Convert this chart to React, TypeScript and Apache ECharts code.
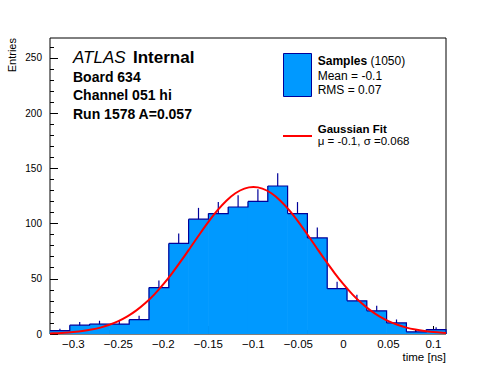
import React, { useEffect, useRef } from "react";
import * as echarts from "echarts";

// Histogram binning (time [ns])
const xMin = -0.326;
const xMax = 0.114;
const binWidth = 0.022;
const counts = [3, 8, 9, 9, 13, 42, 82, 104, 109, 115, 120, 134, 109, 87, 41, 30, 21, 10, 2, 4];

// Gaussian fit curve
const fitX = [
  -0.326, -0.32, -0.31, -0.3, -0.29, -0.28, -0.27, -0.26, -0.25, -0.24, -0.23, -0.22, -0.21, -0.2,
  -0.19, -0.18, -0.17, -0.16, -0.15, -0.14, -0.13, -0.12, -0.11, -0.1, -0.09, -0.08, -0.07, -0.06,
  -0.05, -0.04, -0.03, -0.02, -0.01, 0, 0.01, 0.02, 0.03, 0.04, 0.05, 0.06, 0.07, 0.08, 0.09, 0.1,
  0.11, 0.114,
];
const fitY = [
  0.5, 0.7, 1.1, 1.8, 2.7, 4.0, 5.8, 8.4, 11.7, 16.0, 21.4, 28.0, 35.9, 45.1,
  55.4, 66.6, 78.3, 90.1, 101.5, 111.9, 120.7, 127.4, 131.6, 133.0, 131.6, 127.4, 120.7, 111.9,
  101.5, 90.1, 78.3, 66.6, 55.4, 45.1, 35.9, 28.0, 21.4, 16.0, 11.7, 8.4, 5.8, 4.0, 2.7, 1.8,
  1.1, 0.9,
];

// Axis ticks
const xMajorTicks = [-0.3, -0.25, -0.2, -0.15, -0.1, -0.05, 0, 0.05, 0.1];
const xMinorTicks = [
  -0.32, -0.31, -0.3, -0.29, -0.28, -0.27, -0.26, -0.25, -0.24, -0.23, -0.22, -0.21, -0.2, -0.19,
  -0.18, -0.17, -0.16, -0.15, -0.14, -0.13, -0.12, -0.11, -0.1, -0.09, -0.08, -0.07, -0.06, -0.05,
  -0.04, -0.03, -0.02, -0.01, 0, 0.01, 0.02, 0.03, 0.04, 0.05, 0.06, 0.07, 0.08, 0.09, 0.1, 0.11,
];
const yMax = 268;
const yMajorTicks = [0, 50, 100, 150, 200, 250];
const yMinorTicks = [10, 20, 30, 40, 50, 60, 70, 80, 90, 100, 110, 120, 130, 140, 150, 160, 170, 180, 190, 200, 210, 220, 230, 240, 250, 260];

const FONT = "'Liberation Sans', Arial, Helvetica, sans-serif";
const FILL = "#0099ff";
const NAVY = "#00009a";

export default function App() {
  const ref = useRef<HTMLDivElement>(null);

  useEffect(() => {
    if (!ref.current) return;
    const chart = echarts.init(ref.current, undefined, { renderer: "svg" });

    const histData = counts.map((c, i) => {
      const lo = xMin + i * binWidth;
      const hi = xMin + (i + 1) * binWidth;
      const next = i + 1 < counts.length ? counts[i + 1] : 0;
      return [lo, hi, c, next];
    });

    const fmtX = (v: number) => (v < 0 ? "\u2212" + String(-v) : String(v));

    const txt = (text: string, x: number, y: number, size: number, weight: string, style = "normal") => ({
      type: "text",
      x,
      y,
      style: {
        text,
        fill: "#000",
        font: `${style} ${weight} ${size}px ${FONT}`,
        textAlign: "left",
        textVerticalAlign: "middle",
      },
    });

    const hiddenLine = { show: false, onZero: false };

    const option: any = {
      animation: false,
      backgroundColor: "#fff",
      grid: {
        left: 50,
        right: 50,
        top: 38,
        bottom: 38,
        show: true,
        borderColor: "#000",
        borderWidth: 1,
        backgroundColor: "transparent",
      },
      xAxis: [
        {
          type: "value",
          min: xMin,
          max: xMax,
          position: "bottom",
          axisLine: hiddenLine,
          splitLine: { show: false },
          axisTick: {
            show: true,
            inside: true,
            length: 8,
            customValues: xMajorTicks,
            lineStyle: { color: "#000", width: 1 },
          },
          axisLabel: {
            customValues: xMajorTicks,
            formatter: fmtX,
            color: "#000",
            fontSize: 11.5,
            fontFamily: FONT,
            margin: 4,
          },
        },
        {
          type: "value",
          min: xMin,
          max: xMax,
          position: "bottom",
          axisLine: hiddenLine,
          splitLine: { show: false },
          axisTick: {
            show: true,
            inside: true,
            length: 4,
            customValues: xMinorTicks,
            lineStyle: { color: "#000", width: 1 },
          },
          axisLabel: { show: false },
        },
      ],
      yAxis: [
        {
          type: "value",
          min: 0,
          max: yMax,
          position: "left",
          axisLine: hiddenLine,
          splitLine: { show: false },
          axisTick: {
            show: true,
            inside: true,
            length: 8,
            customValues: yMajorTicks,
            lineStyle: { color: "#000", width: 1 },
          },
          axisLabel: {
            customValues: yMajorTicks,
            color: "#000",
            fontSize: 10,
            fontFamily: FONT,
            margin: 8,
          },
        },
        {
          type: "value",
          min: 0,
          max: yMax,
          position: "left",
          axisLine: hiddenLine,
          splitLine: { show: false },
          axisTick: {
            show: true,
            inside: true,
            length: 4,
            customValues: yMinorTicks,
            lineStyle: { color: "#000", width: 1 },
          },
          axisLabel: { show: false },
        },
      ],
      series: [
        {
          type: "custom",
          xAxisIndex: 0,
          yAxisIndex: 0,
          data: histData,
          encode: { x: [0, 1], y: 2 },
          z: 2,
          renderItem: (params: any, api: any) => {
            const lo = api.value(0);
            const hi = api.value(1);
            const c = api.value(2);
            const next = api.value(3);
            const pBase = api.coord([lo, 0]);
            const pTopLo = api.coord([lo, c]);
            const pTopHi = api.coord([hi, c]);
            const pNext = api.coord([hi, next]);
            const mid = (lo + hi) / 2;
            const e0 = api.coord([mid, c]);
            const e1 = api.coord([mid, c + Math.sqrt(c)]);
            return {
              type: "group",
              children: [
                {
                  type: "rect",
                  z2: 0,
                  shape: {
                    x: pBase[0] - 0.3,
                    y: pTopLo[1],
                    width: pTopHi[0] - pTopLo[0] + 0.6,
                    height: pBase[1] - pTopLo[1],
                  },
                  style: { fill: FILL },
                },
                {
                  type: "polyline",
                  z2: 10,
                  shape: { points: [pTopLo, pTopHi, pNext] },
                  style: { stroke: NAVY, lineWidth: 1.2, fill: null },
                },
                {
                  type: "line",
                  z2: 10,
                  shape: { x1: e0[0], y1: e0[1], x2: e1[0], y2: e1[1] },
                  style: { stroke: NAVY, lineWidth: 1.2 },
                },
              ],
            };
          },
        },
        {
          type: "line",
          xAxisIndex: 0,
          yAxisIndex: 0,
          data: fitX.map((x, i) => [x, fitY[i]]),
          showSymbol: false,
          smooth: 0.3,
          z: 5,
          lineStyle: { color: "#ff0000", width: 2 },
        },
      ],
      graphic: [
        // Y axis title
        {
          type: "text",
          x: 12,
          y: 38,
          rotation: Math.PI / 2,
          style: {
            text: "Entries",
            fill: "#000",
            font: `normal 11px ${FONT}`,
            textAlign: "right",
            textVerticalAlign: "middle",
          },
        },
        // X axis title
        {
          type: "text",
          x: 446,
          y: 357,
          style: {
            text: "time [ns]",
            fill: "#000",
            font: `normal 11.5px ${FONT}`,
            textAlign: "right",
            textVerticalAlign: "middle",
          },
        },
        txt("ATLAS", 73, 57, 17, "normal", "italic"),
        txt("Internal", 133, 57, 17, "bold"),
        txt("Board 634", 73, 77, 14, "bold"),
        txt("Channel 051 hi", 73, 95, 14, "bold"),
        txt("Run 1578 A=0.057", 73, 113.5, 14, "bold"),
        // Legend
        {
          type: "rect",
          shape: { x: 283.5, y: 53.5, width: 28, height: 43 },
          style: { fill: FILL, stroke: NAVY, lineWidth: 1 },
        },
        txt("Samples", 317.7, 61.3, 12, "bold"),
        txt("(1050)", 370.5, 61.3, 12, "normal"),
        txt("Mean = -0.1", 317.7, 76.2, 12, "normal"),
        txt("RMS = 0.07", 317.7, 90, 12, "normal"),
        {
          type: "line",
          shape: { x1: 283, y1: 136, x2: 312, y2: 136 },
          style: { stroke: "#ff0000", lineWidth: 2 },
        },
        txt("Gaussian Fit", 317.7, 129, 11.5, "bold"),
        txt("\u03bc = -0.1, \u03c3 =0.068", 317.7, 141.3, 11.5, "normal"),
      ],
    };

    chart.setOption(option);
    return () => chart.dispose();
  }, []);

  return (
    <div
      ref={ref}
      style={{ position: "absolute", left: 0, top: 0, width: 496, height: 372 }}
    />
  );
}
